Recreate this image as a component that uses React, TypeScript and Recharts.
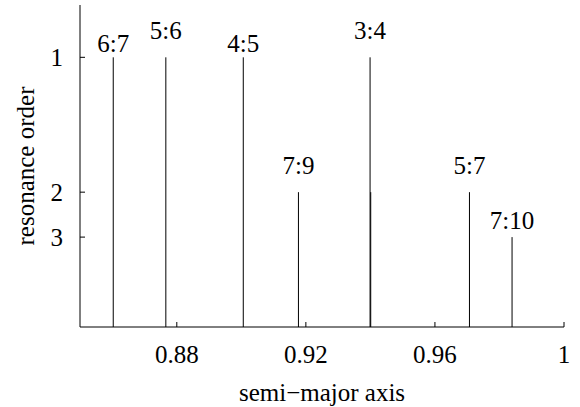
import {
  ComposedChart,
  Scatter,
  ErrorBar,
  LabelList,
  XAxis,
  YAxis
} from 'recharts'

const resonanceLabels = ['6:7', '5:6', '4:5', '7:9', '3:4', '', '5:7', '7:10']
const semiMajor = [0.8603, 0.8766, 0.9006, 0.9177, 0.9399, 0.9401, 0.9707, 0.9839]
const orders = [1, 1, 1, 2, 1, 2, 2, 3]
const xTicks = [0.88, 0.92, 0.96, 1]
const orderTicks = [1, 2, 3]

// labels that sit higher so they don't collide with their neighbours
const raised = ['5:6', '3:4', '7:9', '5:7']

const data = semiMajor.map((a, i) => ({
  a,
  v: 1 / orders[i],
  err: [1 / orders[i], 0],
  name: resonanceLabels[i]
}))

const font = '"Liberation Serif", "DejaVu Serif", serif'
const fs = 25
const yDomain = [0, 1.194]
const xDomain = [0.85, 1]

const ResLabel = (props: any) => {
  const { x, y, width, height, value } = props
  if (!value) return null
  const cx = x + (width || 0) / 2
  const cy = y + (height || 0) / 2
  const lift = raised.includes(value) ? 18 : value === '7:10' ? 8 : 5
  return (
    <text x={cx} y={cy - lift} textAnchor="middle" style={{ fontFamily: font }} fontSize={fs} fill="#000">
      {value}
    </text>
  )
}

export default function App() {
  return (
    <div style={{ position: 'absolute', left: 0, top: 0, background: '#fff', fontFamily: font }}>
      <ComposedChart
        width={580}
        height={407}
        data={data}
        margin={{ top: 5, right: 16, bottom: 0, left: 0 }}
      >
        <XAxis
          dataKey="a"
          type="number"
          domain={xDomain}
          ticks={xTicks}
          allowDataOverflow
          height={80}
          tickSize={-5}
          tickMargin={23}
          stroke="#000"
          tick={{ fill: '#000', fontSize: fs, style: { fontFamily: font } }}
          tickFormatter={(v: number) => String(v)}
          label={{
            value: 'semi\u2212major axis',
            position: 'insideBottom',
            offset: 6,
            style: { fontFamily: font, fontSize: fs, fill: '#000' }
          }}
        />
        <XAxis
          xAxisId="top"
          orientation="top"
          type="number"
          domain={xDomain}
          ticks={xTicks}
          allowDataOverflow
          height={0}
          tickSize={-5}
          tick={false}
          stroke="#000"
        />
        <YAxis
          type="number"
          domain={yDomain}
          ticks={orderTicks.map((o) => 1 / o)}
          allowDataOverflow
          width={80}
          tickSize={-5}
          tickMargin={22}
          stroke="#000"
          tick={{ fill: '#000', fontSize: fs, style: { fontFamily: font } }}
          tickFormatter={(v: number) => String(Math.round(1 / v))}
          label={{
            value: 'resonance order',
            angle: -90,
            position: 'insideLeft',
            offset: 25,
            style: { textAnchor: 'middle', fontFamily: font, fontSize: fs, fill: '#000' }
          }}
        />
        <YAxis
          yAxisId="right"
          orientation="right"
          type="number"
          domain={yDomain}
          ticks={orderTicks.map((o) => 1 / o)}
          allowDataOverflow
          width={0}
          tickSize={-5}
          tick={false}
          stroke="#000"
        />
        <Scatter dataKey="v" isAnimationActive={false} shape={() => <g />}>
          <ErrorBar
            dataKey="err"
            direction="y"
            width={0}
            stroke="#000"
            strokeWidth={1}
            isAnimationActive={false}
          />
          <LabelList dataKey="name" content={ResLabel} />
        </Scatter>
      </ComposedChart>
    </div>
  )
}
